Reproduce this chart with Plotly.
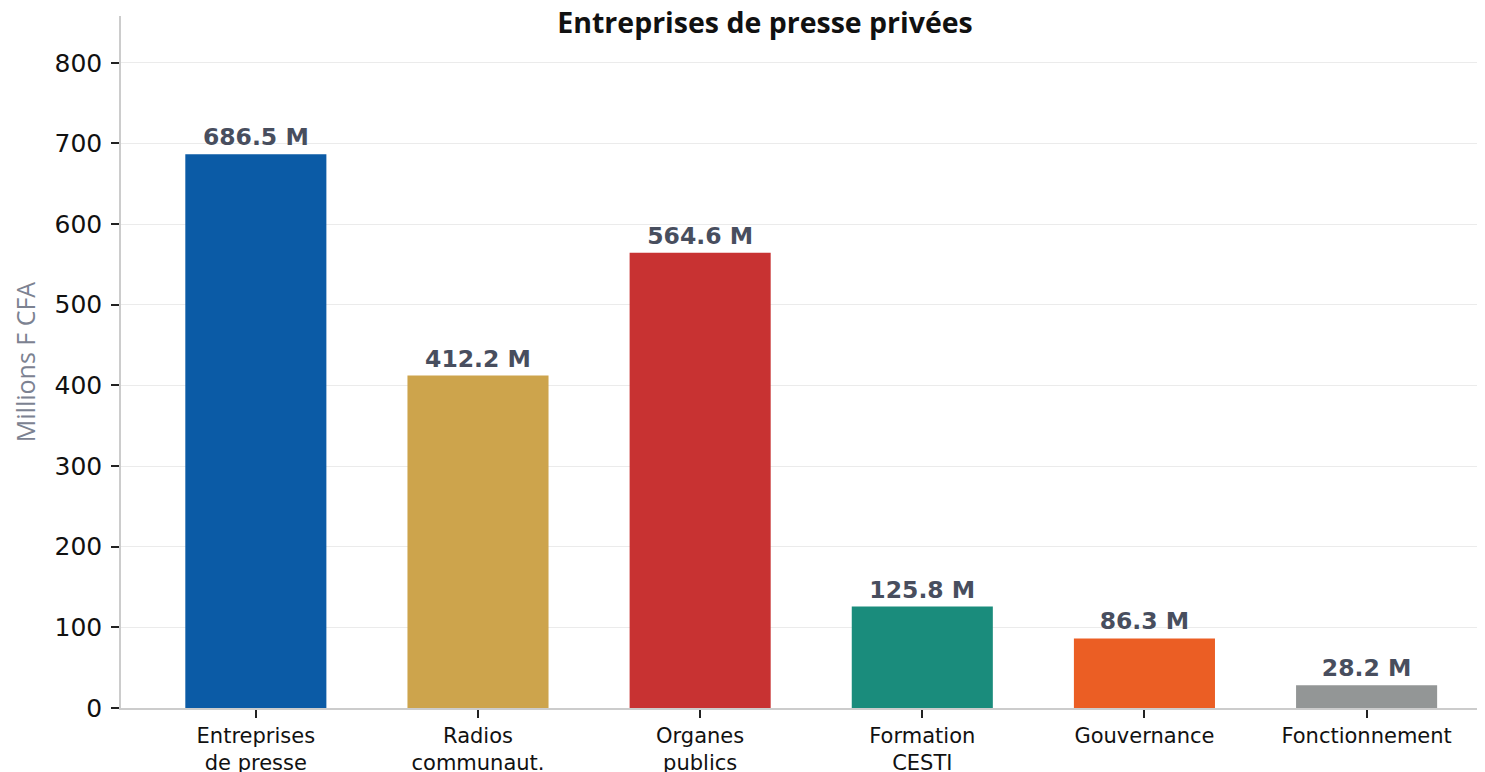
import plotly.graph_objects as go

categories = ["Entreprises<br>de presse", "Radios<br>communaut.", "Organes<br>publics",
              "Formation<br>CESTI", "Gouvernance", "Fonctionnement"]
values = [686.5, 412.2, 564.6, 125.8, 86.3, 28.2]
colors = ["#0b5ba6", "#cda44c", "#c83232", "#1a8c7c", "#eb5e24", "#939696"]
y_ticks = [0, 100, 200, 300, 400, 500, 600, 700, 800]

fig = go.Figure(go.Bar(
    x=list(range(len(categories))),
    y=values,
    marker=dict(color=colors, line=dict(width=0)),
    width=0.635,
    text=[f"{v:.1f} M" for v in values],
    textposition="outside",
    textfont=dict(family="DejaVu Sans", size=23.5, color="#484e5e", weight="bold"),
    cliponaxis=False,
))

fig.update_layout(
    width=1485, height=772,
    margin=dict(l=113, r=8, t=8, b=72),
    paper_bgcolor="white", plot_bgcolor="white",
    showlegend=False,
    title=dict(text="<b>Entreprises de presse privées</b>", x=0.5098, xanchor="center",
               y=0.981, yanchor="middle",
               font=dict(family="Open Sans", size=28.5, color="#111111")),
    xaxis=dict(
        range=[-0.607, 5.533],
        automargin=False,
        tickmode="array", tickvals=list(range(len(categories))), ticktext=categories,
        tickfont=dict(family="DejaVu Sans", size=21, color="#111111"),
        ticks="outside", ticklen=8, tickcolor="#222222", tickwidth=1.5,
        showline=True, linecolor="#cccccc", linewidth=1.5,
        showgrid=False, zeroline=False,
    ),
    yaxis=dict(
        range=[0, 858],
        automargin=False,
        tickmode="array", tickvals=y_ticks,
        tickfont=dict(family="DejaVu Sans", size=25, color="#111111"),
        ticks="outside", ticklen=8, tickcolor="#222222", tickwidth=1.5,
        ticklabelstandoff=4,
        showline=True, linecolor="#cccccc", linewidth=1.5,
        showgrid=True, gridcolor="#ebebeb", gridwidth=1,
        zeroline=False,
        title=dict(text="Millions F CFA", font=dict(family="Open Sans", size=25, color="#7c8291"),
                   standoff=16),
    ),
)

fig.write_html("out.html")
